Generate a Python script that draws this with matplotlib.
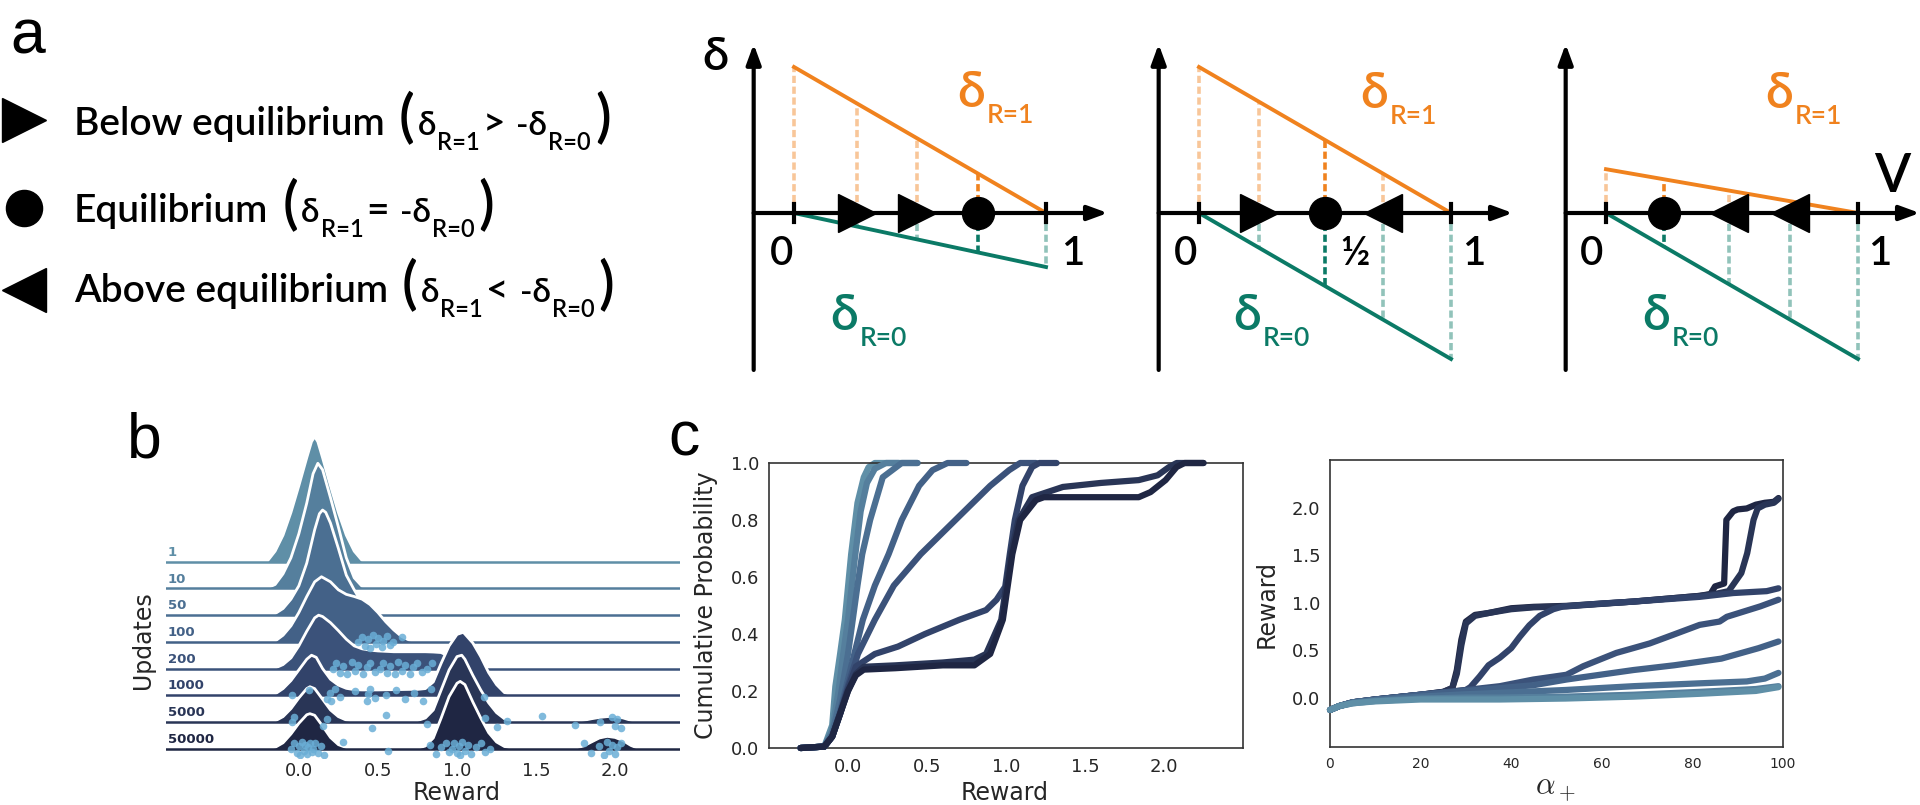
import matplotlib
matplotlib.use("Agg")
import matplotlib.pyplot as plt

W, H = 1920, 805
fig = plt.figure(figsize=(W / 100, H / 100), dpi=100)

SANS = ["Lato", "DejaVu Sans"]
WEIGHT = "semibold"
ORANGE = "#f0821e"
TEAL = "#0b7a66"
INK = "#262626"
DOT = "#6aaed6"

# colours for the eight update counts, light -> dark
palette = ["#5f8fa7", "#557f9d", "#4b6f92", "#436187",
           "#3b527a", "#32436a", "#293556", "#1f2643"]

# ---------------- panel a : delta vs V schematics ----------------
v_ticks = [0, 1]
delta_r1_at_v0 = [1.0, 1.0, 0.3]     # delta_{R=1} at V = 0, falls to 0 at V = 1
delta_r0_at_v1 = [0.37, 1.0, 1.0]    # -delta_{R=0} at V = 1, 0 at V = 0
probe_v = [[0.25, 0.49], [0.24, 0.73], [0.49, 0.73]]

legend_rows = [(">", "Below equilibrium", ">"),
               ("o", "Equilibrium", "="),
               ("<", "Above equilibrium", "<")]

# ---------------- panel b : ridge densities ----------------
update_labels = ["1", "10", "50", "100", "200", "1000", "5000", "50000"]

ridge_x = [
    [-0.25, -0.2, -0.15, -0.1, -0.05, 0.0, 0.05, 0.08, 0.1, 0.12, 0.15, 0.2, 0.25, 0.3, 0.35, 0.4, 0.45],
    [-0.25, -0.2, -0.15, -0.1, -0.05, 0.0, 0.05, 0.09, 0.12, 0.15, 0.2, 0.25, 0.3, 0.35, 0.4, 0.45],
    [-0.25, -0.2, -0.15, -0.1, -0.05, 0.0, 0.05, 0.1, 0.13, 0.15, 0.17, 0.2, 0.25, 0.3, 0.35, 0.4, 0.45, 0.5, 0.55],
    [-0.2, -0.15, -0.1, -0.05, 0.0, 0.05, 0.1, 0.143, 0.2, 0.25, 0.3, 0.35, 0.4, 0.45, 0.5, 0.55, 0.6, 0.65, 0.7, 0.75, 0.8],
    [-0.2, -0.15, -0.1, -0.05, 0.0, 0.05, 0.1, 0.125, 0.15, 0.2, 0.25, 0.3, 0.35, 0.4, 0.45, 0.5, 0.6, 0.7, 0.8,
     0.85, 0.9, 0.95, 1.0, 1.05, 1.1, 1.15],
    [-0.2, -0.15, -0.1, -0.05, 0.0, 0.05, 0.08, 0.11, 0.15, 0.2, 0.25, 0.3, 0.35, 0.4, 0.5, 0.6, 0.7, 0.75, 0.8,
     0.85, 0.9, 0.95, 1.0, 1.04, 1.1, 1.15, 1.2, 1.25, 1.3, 1.35],
    [-0.2, -0.15, -0.1, -0.05, 0.0, 0.05, 0.07, 0.1, 0.15, 0.2, 0.25, 0.3, 0.35, 0.5, 0.7, 0.75, 0.8, 0.85, 0.9,
     0.95, 1.0, 1.03, 1.05, 1.1, 1.15, 1.2, 1.25, 1.3, 1.35, 1.5, 1.75, 1.8, 1.85, 1.9, 1.95, 2.0, 2.05, 2.1, 2.15],
    [-0.2, -0.15, -0.1, -0.05, 0.0, 0.05, 0.07, 0.1, 0.15, 0.2, 0.25, 0.3, 0.35, 0.75, 0.8, 0.85, 0.9, 0.95, 1.0,
     1.02, 1.05, 1.1, 1.15, 1.2, 1.25, 1.3, 1.35, 1.7, 1.75, 1.8, 1.85, 1.9, 1.95, 2.0, 2.05, 2.1, 2.15],
]
ridge_h = [
    [0, 0.02, 0.4, 1.0, 1.85, 2.85, 3.9, 4.5, 4.69, 4.5, 3.9, 2.85, 1.85, 1.0, 0.4, 0.05, 0],
    [0, 0.02, 0.15, 0.55, 1.15, 2.05, 3.2, 4.3, 4.69, 4.45, 3.4, 2.3, 1.15, 0.4, 0.08, 0],
    [0, 0.01, 0.06, 0.25, 0.6, 1.1, 1.95, 3.2, 3.8, 3.94, 3.85, 3.45, 2.5, 1.5, 0.95, 0.45, 0.15, 0.03, 0],
    [0, 0.03, 0.25, 0.6, 1.1, 1.7, 2.25, 2.44, 2.25, 1.95, 1.78, 1.7, 1.6, 1.4, 1.1, 0.75, 0.45, 0.2, 0.06, 0.01, 0],
    [0, 0.02, 0.15, 0.4, 0.85, 1.4, 1.9, 2.0, 1.95, 1.72, 1.42, 1.1, 0.85, 0.74, 0.69, 0.66, 0.63, 0.63, 0.63,
     0.62, 0.6, 0.45, 0.25, 0.1, 0.02, 0],
    [0, 0.05, 0.25, 0.55, 0.95, 1.35, 1.5, 1.42, 1.0, 0.6, 0.38, 0.26, 0.21, 0.2, 0.2, 0.21, 0.22, 0.22, 0.25,
     0.5, 1.2, 1.85, 2.28, 2.36, 1.96, 1.45, 0.85, 0.4, 0.1, 0],
    [0, 0.04, 0.2, 0.5, 0.9, 1.25, 1.32, 1.25, 0.85, 0.45, 0.2, 0.07, 0.03, 0.02, 0.02, 0.05, 0.15, 0.45, 1.2,
     1.95, 2.45, 2.5, 2.35, 1.75, 1.2, 0.72, 0.35, 0.12, 0.03, 0.01, 0.02, 0.06, 0.12, 0.17, 0.2, 0.2, 0.15, 0.06, 0],
    [0, 0.05, 0.22, 0.55, 0.95, 1.27, 1.31, 1.25, 0.85, 0.42, 0.15, 0.04, 0.01, 0.01, 0.1, 0.4, 1.15, 1.95, 2.45,
     2.52, 2.4, 1.75, 1.15, 0.6, 0.25, 0.08, 0.01, 0, 0.02, 0.1, 0.25, 0.4, 0.46, 0.42, 0.3, 0.12, 0],
]
ridge_dots = [
    [], [], [],
    [0.375, 0.397, 0.418, 0.439, 0.449, 0.47, 0.49, 0.5, 0.523, 0.534, 0.555, 0.576, 0.597, 0.65],
    [0.217, 0.238, 0.259, 0.281, 0.302, 0.333, 0.354, 0.376, 0.407, 0.428, 0.449, 0.481, 0.513, 0.534, 0.555,
     0.576, 0.608, 0.629, 0.65, 0.671, 0.703, 0.724, 0.745, 0.776, 0.808, 0.84],
    [-0.044, 0.063, 0.177, 0.196, 0.203, 0.228, 0.26, 0.354, 0.428, 0.437, 0.449, 0.481, 0.551, 0.614, 0.671,
     0.728, 0.785, 0.835, 1.17],
    [-0.044, -0.03, 0.155, 0.177, 0.46, 0.55, 0.81, 1.177, 1.251, 1.314, 1.536, 1.747, 1.905, 1.98, 2.0, 2.01, 2.04],
    [-0.05, -0.03, -0.01, 0.0, 0.01, 0.02, 0.03, 0.04, 0.05, 0.06, 0.07, 0.08, 0.09, 0.1, 0.12, 0.14, 0.16, 0.28,
     0.565, 0.83, 0.87, 0.9, 0.93, 0.95, 0.97, 0.98, 1.0, 1.01, 1.02, 1.03, 1.05, 1.07, 1.09, 1.12, 1.15, 1.18,
     1.21, 1.8, 1.85, 1.9, 1.93, 1.95, 1.96, 1.98, 2.0, 2.01, 2.04],
]
JITTER = [0.0, 0.2, -0.15, 0.1, -0.22, 0.25, -0.08, 0.15, -0.2, 0.05, 0.22, -0.12]

# ---------------- panel c left : cumulative probability ----------------
cdf_x = [
    [-0.3, -0.15, -0.1, -0.08, -0.05, -0.02, 0.02, 0.06, 0.1, 0.13, 0.17, 0.3, 0.44],
    [-0.3, -0.15, -0.1, -0.06, -0.03, 0.0, 0.04, 0.08, 0.12, 0.17, 0.24, 0.32],
    [-0.3, -0.15, -0.1, -0.05, 0.0, 0.03, 0.06, 0.09, 0.14, 0.22, 0.34, 0.44],
    [-0.3, -0.15, -0.1, -0.05, 0.0, 0.04, 0.094, 0.17, 0.257, 0.34, 0.45, 0.535, 0.63, 0.75],
    [-0.3, -0.15, -0.1, -0.05, 0.0, 0.063, 0.17, 0.29, 0.46, 0.68, 0.9, 1.02, 1.09, 1.19],
    [-0.3, -0.15, -0.1, -0.05, 0.0, 0.05, 0.17, 0.317, 0.487, 0.705, 0.874, 0.94, 0.995, 1.024, 1.056, 1.104,
     1.165, 1.21, 1.32],
    [-0.3, -0.15, -0.1, -0.05, 0.0, 0.05, 0.1, 0.3, 0.6, 0.8, 0.874, 0.97, 1.03, 1.08, 1.165, 1.36, 1.6, 1.84,
     1.96, 2.03, 2.08, 2.25],
    [-0.3, -0.15, -0.1, -0.05, 0.0, 0.05, 0.1, 0.3, 0.6, 0.8, 0.9, 0.98, 1.04, 1.09, 1.19, 1.24, 1.5, 1.84,
     1.915, 2.01, 2.08, 2.13, 2.25],
]
cdf_p = [
    [0, 0.005, 0.08, 0.216, 0.33, 0.45, 0.68, 0.86, 0.95, 0.985, 1.0, 1.0, 1.0],
    [0, 0.005, 0.06, 0.2, 0.33, 0.45, 0.65, 0.83, 0.93, 0.98, 1.0, 1.0],
    [0, 0.005, 0.05, 0.17, 0.33, 0.45, 0.57, 0.68, 0.8, 0.95, 1.0, 1.0],
    [0, 0.005, 0.04, 0.13, 0.24, 0.33, 0.45, 0.57, 0.68, 0.8, 0.92, 0.975, 1.0, 1.0],
    [0, 0.005, 0.04, 0.12, 0.22, 0.33, 0.45, 0.57, 0.68, 0.8, 0.92, 0.975, 1.0, 1.0],
    [0, 0.005, 0.04, 0.12, 0.21, 0.286, 0.33, 0.356, 0.4, 0.45, 0.484, 0.52, 0.566, 0.68, 0.8, 0.92, 0.986, 1.0, 1.0],
    [0, 0.005, 0.04, 0.12, 0.2, 0.26, 0.285, 0.29, 0.3, 0.31, 0.33, 0.45, 0.68, 0.8, 0.88, 0.916, 0.93, 0.94,
     0.957, 0.985, 1.0, 1.0],
    [0, 0.005, 0.04, 0.12, 0.2, 0.255, 0.275, 0.28, 0.29, 0.29, 0.33, 0.45, 0.68, 0.8, 0.87, 0.88, 0.88, 0.88,
     0.898, 0.94, 0.986, 1.0, 1.0],
]

# ---------------- panel c right : reward vs alpha+ ----------------
quant_a = [
    [0, 2, 5, 10, 20, 30, 37.5, 52, 67, 81.6, 94, 99],
    [0, 2, 5, 10, 20, 30, 37.5, 52, 67, 81.6, 94, 99],
    [0, 2, 5, 10, 20, 30, 37.5, 52, 67, 81.6, 92, 96, 99],
    [0, 2, 5, 10, 20, 30, 37.5, 44.9, 52.2, 59.6, 67, 76, 86.4, 94.6, 99],
    [0, 2, 5, 10, 20, 30, 37.5, 44.9, 52.2, 55.9, 63.2, 70.6, 75.7, 81.6, 86, 87.6, 95, 99],
    [0, 2, 5, 10, 20, 25, 30, 31, 33, 35, 37.5, 40, 41.9, 44, 46.3, 49.3, 51.5, 60, 66.9, 81.6, 89, 96.4, 99],
    [0, 2, 5, 10, 20, 25, 27, 28, 29, 30, 32, 35, 40, 45, 52.2, 66.9, 81.6, 85, 88, 90.8, 92.1, 93.5, 94.4,
     96, 98, 99],
    [0, 2, 5, 10, 20, 25, 27, 28, 29, 30, 32, 35, 40, 45, 52.2, 66.9, 81.6, 84, 85, 87, 87.5, 89, 90, 92,
     94, 96, 98, 99],
]
quant_r = [
    [-0.13, -0.09, -0.06, -0.04, -0.02, -0.02, -0.02, -0.01, 0.01, 0.04, 0.07, 0.11],
    [-0.13, -0.09, -0.06, -0.035, -0.01, 0.0, 0.0, 0.01, 0.03, 0.06, 0.09, 0.12],
    [-0.13, -0.09, -0.05, -0.025, 0.01, 0.035, 0.05, 0.08, 0.12, 0.15, 0.17, 0.2, 0.26],
    [-0.13, -0.09, -0.05, -0.02, 0.03, 0.07, 0.10, 0.13, 0.19, 0.24, 0.29, 0.34, 0.41, 0.52, 0.59],
    [-0.13, -0.09, -0.05, -0.02, 0.03, 0.08, 0.12, 0.19, 0.24, 0.33, 0.47, 0.57, 0.66, 0.765, 0.80, 0.85, 0.96, 1.03],
    [-0.13, -0.09, -0.05, -0.02, 0.03, 0.05, 0.08, 0.11, 0.22, 0.34, 0.42, 0.52, 0.64, 0.76, 0.86, 0.93, 0.96,
     0.99, 1.01, 1.06, 1.10, 1.12, 1.15],
    [-0.13, -0.09, -0.05, -0.02, 0.03, 0.06, 0.1, 0.25, 0.55, 0.78, 0.86, 0.89, 0.93, 0.95, 0.96, 1.01, 1.07,
     1.09, 1.12, 1.31, 1.52, 1.87, 1.99, 2.03, 2.05, 2.09],
    [-0.13, -0.09, -0.05, -0.02, 0.03, 0.06, 0.1, 0.29, 0.61, 0.8, 0.87, 0.89, 0.94, 0.955, 0.965, 1.01, 1.07,
     1.09, 1.17, 1.2, 1.87, 1.96, 1.98, 1.99, 2.03, 2.05, 2.06, 2.1],
]


def rect(l, t, r, b):
    # pixel box (left, top, right, bottom) -> figure fraction
    return [l / W, 1 - b / H, (r - l) / W, (b - t) / H]


# overlay in pixel units for letters, legend and schematic labels
ov = fig.add_axes([0, 0, 1, 1], zorder=50)
ov.set_xlim(0, W)
ov.set_ylim(H, 0)
ov.axis("off")
ov.patch.set_visible(False)
renderer = fig.canvas.get_renderer()


def text_run(x, y, parts, color="black"):
    for s, size, dy in parts:
        if s is None:
            x += size
            continue
        t = ov.text(x, y + dy, s, fontsize=size, color=color, family=SANS, fontweight=WEIGHT,
                    ha="left", va="baseline")
        x += t.get_window_extent(renderer).width
    return x


# ---- panel a legend
legend_y = [120, 208, 290]
legend_base = [135, 222, 302]
for (mk, name, rel), ym, yb in zip(legend_rows, legend_y, legend_base):
    ov.plot(24, ym, marker=mk, ms=31 if mk != "o" else 26, color="black", ls="none")
    text_run(74, yb, [(name, 28, 0), (None, 14, 0), ("(", 42, 1), (None, 3, 0),
                      ("δ", 24, 0), (None, 1, 0), ("R=1", 17, 15), (None, 3, 0),
                      (rel, 28, 0), (None, 11, 0), ("-δ", 24, 0), (None, 1, 0),
                      ("R=0", 17, 15), (None, 4, 0), (")", 42, 1)])

# ---- panel a schematics
V_UNIT, D_UNIT, AXIS_Y = 252, 146, 213
diag_origin = [794, 1199, 1606]
dash = (0, (2, 1))
arrow = dict(arrowstyle="-|>,head_length=0.6,head_width=0.22", lw=3, color="black",
             mutation_scale=20, shrinkA=0, shrinkB=0)
for k, ox in enumerate(diag_origin):
    ax = fig.add_axes(rect(ox - 0.2 * V_UNIT, AXIS_Y - 1.2 * D_UNIT,
                           ox + 1.3 * V_UNIT, AXIS_Y + 1.2 * D_UNIT))
    ax.set_xlim(-0.2, 1.3)
    ax.set_ylim(-1.2, 1.2)
    ax.axis("off")
    a, b = delta_r1_at_v0[k], delta_r0_at_v1[k]
    d1 = lambda v: a * (1 - v)
    d0 = lambda v: -b * v
    v_eq = a / (a + b)
    for v in [0] + probe_v[k] + [1]:
        if d1(v) > 0:
            ax.plot([v, v], [0, d1(v)], color=ORANGE, alpha=0.45, lw=2.6, ls=dash, zorder=1)
        if d0(v) < 0:
            ax.plot([v, v], [0, d0(v)], color=TEAL, alpha=0.45, lw=2.6, ls=dash, zorder=1)
    ax.plot([v_eq, v_eq], [0, d1(v_eq)], color=ORANGE, lw=2.6, ls=dash, zorder=1)
    ax.plot([v_eq, v_eq], [0, d0(v_eq)], color=TEAL, lw=2.6, ls=dash, zorder=1)
    ax.plot([0, 1], [d1(0), d1(1)], color=ORANGE, lw=2.8, zorder=2)
    ax.plot([0, 1], [d0(0), d0(1)], color=TEAL, lw=2.8, zorder=2)
    ax.annotate("", xy=(1.245, 0), xytext=(-0.16, 0), arrowprops=arrow, annotation_clip=False)
    ax.annotate("", xy=(-0.16, 1.157), xytext=(-0.16, -1.075), arrowprops=arrow, annotation_clip=False)
    for v in v_ticks:
        ax.plot([v, v], [-0.06, 0.06], color="black", lw=3, zorder=3)
    for v in probe_v[k]:
        mk = ">" if d1(v) + d0(v) > 0 else "<"
        ax.plot(v, 0, marker=mk, ms=27, color="black", zorder=5, clip_on=False)
    ax.plot(v_eq, 0, marker="o", ms=23, color="black", zorder=5, clip_on=False)

# schematic labels
for x0, y0, sub, col in [(957, 107, "R=1", ORANGE), (830, 330, "R=0", TEAL),
                         (1360, 108, "R=1", ORANGE), (1233, 330, "R=0", TEAL),
                         (1765, 108, "R=1", ORANGE), (1642, 330, "R=0", TEAL)]:
    text_run(x0, y0, [("δ", 36, 0), (None, 2, 0), (sub, 19, 16)], color=col)
for x0, s in [(782, "0"), (1073, "1"), (1186, "0"), (1474, "1"), (1355, "½"), (1592, "0"), (1880, "1")]:
    ov.text(x0, 265, s, fontsize=29, family=SANS, fontweight=WEIGHT, ha="center", va="baseline")
ov.text(1892, 192, "V", fontsize=38, family=SANS, fontweight=WEIGHT, ha="center", va="baseline")
ov.text(716, 70, "δ", fontsize=34, family=SANS, fontweight=WEIGHT, ha="center", va="baseline")

# panel letters
for x0, y0, s in [(28, 53, "a"), (144, 457, "b"), (684, 455, "c")]:
    ov.text(x0, y0, s, fontsize=45, family="Liberation Sans", ha="center", va="baseline")

# ---------------- panel b ----------------
ax_b = fig.add_axes(rect(166, 431, 680, 758))
for i, lab in enumerate(update_labels):
    base = -i
    z = 10 + 3 * i
    top = [base + h for h in ridge_h[i]]
    ax_b.fill_between(ridge_x[i], base, top, color=palette[i], lw=0, zorder=z)
    ax_b.plot(ridge_x[i], top, color="white", lw=2, zorder=z + 1)
    ax_b.axhline(base, color=palette[i], lw=1.8, zorder=z + 2)
    ax_b.text(-0.83, base + 0.22, lab, color=palette[i], fontsize=9.5, fontweight="bold",
              ha="left", va="baseline", zorder=z + 2)
    dots = ridge_dots[i]
    if dots:
        ys = [base + JITTER[j % len(JITTER)] for j in range(len(dots))]
        ax_b.scatter(dots, ys, s=30, color=DOT, alpha=0.85, lw=0, zorder=100)
ax_b.set_xlim(-0.84, 2.41)
ax_b.set_ylim(-7.35, 4.9)
ax_b.set_yticks([])
ax_b.set_xticks([0, 0.5, 1.0, 1.5, 2.0])
ax_b.set_xticklabels(["0.0", "0.5", "1.0", "1.5", "2.0"])
ax_b.tick_params(length=0, pad=3, labelsize=13, labelcolor=INK)
for sp in ax_b.spines.values():
    sp.set_visible(False)
ax_b.patch.set_visible(False)
ax_b.set_xlabel("Reward", fontsize=17, color=INK)
ax_b.xaxis.set_label_coords(0.566, -0.07)
ax_b.set_ylabel("Updates", fontsize=17, color=INK)
ax_b.yaxis.set_label_coords(-0.021, 0.36)


def frame(ax):
    for sp in ax.spines.values():
        sp.set_color("#333333")
        sp.set_linewidth(1.2)
    ax.tick_params(length=0, labelcolor=INK)


# ---------------- panel c left ----------------
ax_c1 = fig.add_axes(rect(769, 463, 1243, 748))
for i in range(8):
    ax_c1.plot(cdf_x[i], cdf_p[i], color=palette[i], lw=4.5, solid_capstyle="round",
               solid_joinstyle="round", clip_on=False, zorder=2 + i)
ax_c1.set_xlim(-0.5, 2.5)
ax_c1.set_ylim(0, 1)
ax_c1.set_xticks([0, 0.5, 1.0, 1.5, 2.0])
ax_c1.set_yticks([0, 0.2, 0.4, 0.6, 0.8, 1.0])
frame(ax_c1)
ax_c1.tick_params(labelsize=13, pad=7)
ax_c1.set_xlabel("Reward", fontsize=17, color=INK)
ax_c1.xaxis.set_label_coords(0.498, -0.115)
ax_c1.set_ylabel("Cumulative Probability", fontsize=17, color=INK)
ax_c1.yaxis.set_label_coords(-0.108, 0.5)

# ---------------- panel c right ----------------
ax_c2 = fig.add_axes(rect(1330, 460, 1783, 747))
for i in reversed(range(8)):
    ax_c2.plot(quant_a[i], quant_r[i], color=palette[i], lw=4.5, solid_capstyle="round",
               solid_joinstyle="round", clip_on=False, zorder=10 - i)
ax_c2.set_xlim(0, 100)
ax_c2.set_ylim(-0.52, 2.5)
ax_c2.set_xticks([0, 20, 40, 60, 80, 100])
ax_c2.set_yticks([0.0, 0.5, 1.0, 1.5, 2.0])
frame(ax_c2)
ax_c2.tick_params(axis="x", labelsize=10, pad=7)
ax_c2.tick_params(axis="y", labelsize=13, pad=7)
ax_c2.set_xlabel(r"$\alpha_+$", fontsize=22, color=INK, math_fontfamily="cm")
ax_c2.xaxis.set_label_coords(0.497, -0.095)
ax_c2.set_ylabel("Reward", fontsize=17, color=INK)
ax_c2.yaxis.set_label_coords(-0.113, 0.5)

fig.savefig("out.png", dpi=100)
